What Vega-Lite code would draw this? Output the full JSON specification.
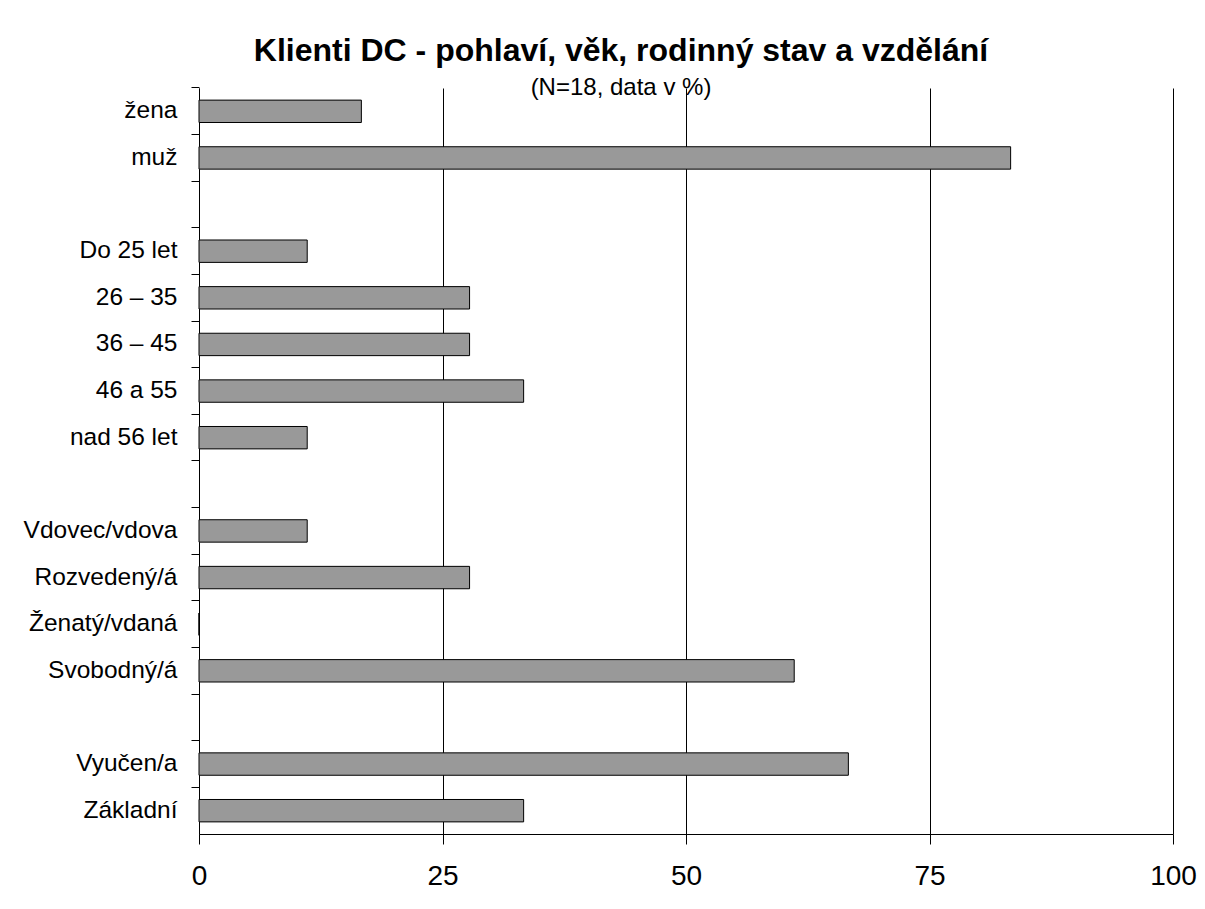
{
  "$schema": "https://vega.github.io/schema/vega-lite/v6.json",
  "width": 974,
  "height": 746,
  "autosize": {"type": "none"},
  "padding": {"left": 199, "top": 88, "right": 32, "bottom": 75},
  "background": "white",
  "title": {
    "text": "Klienti DC - pohlaví, věk, rodinný stav a vzdělání",
    "subtitle": "(N=18, data v %)",
    "anchor": "middle",
    "dx": -65,
    "font": "Liberation Sans",
    "fontSize": 32,
    "fontWeight": "bold",
    "color": "black",
    "subtitleFont": "Liberation Sans",
    "subtitleFontSize": 24,
    "subtitleColor": "black",
    "subtitlePadding": 8,
    "offset": -14
  },
  "data": {
    "values": [
      {"kategorie": "žena", "procento": 16.67},
      {"kategorie": "muž", "procento": 83.33},
      {"kategorie": "Do 25 let", "procento": 11.11},
      {"kategorie": "26 – 35", "procento": 27.78},
      {"kategorie": "36 – 45", "procento": 27.78},
      {"kategorie": "46 a 55", "procento": 33.33},
      {"kategorie": "nad 56 let", "procento": 11.11},
      {"kategorie": "Vdovec/vdova", "procento": 11.11},
      {"kategorie": "Rozvedený/á", "procento": 27.78},
      {"kategorie": "Ženatý/vdaná", "procento": 0},
      {"kategorie": "Svobodný/á", "procento": 61.11},
      {"kategorie": "Vyučen/a", "procento": 66.67},
      {"kategorie": "Základní", "procento": 33.33}
    ]
  },
  "layer": [
    {
      "mark": {"type": "bar", "opacity": 0},
      "encoding": {
        "y": {
          "field": "kategorie",
          "type": "nominal",
          "title": null,
          "scale": {
            "domain": ["žena", "muž", "_gap1", "Do 25 let", "26 – 35", "36 – 45", "46 a 55", "nad 56 let", "_gap2", "Vdovec/vdova", "Rozvedený/á", "Ženatý/vdaná", "Svobodný/á", "_gap3", "Vyučen/a", "Základní"],
            "paddingInner": 0.52,
            "paddingOuter": 0.26
          },
          "axis": {
            "orient": "left",
            "bandPosition": -0.5417,
            "labels": false,
            "domain": false,
            "tickSize": 8,
            "tickColor": "black",
            "grid": false
          }
        },
        "x": {
          "field": "procento",
          "type": "quantitative",
          "title": null,
          "scale": {"domain": [0, 100], "nice": false},
          "axis": {
            "values": [0, 25, 50, 75, 100],
            "grid": true,
            "gridColor": "black",
            "gridOpacity": 1,
            "gridWidth": 1,
            "domainColor": "black",
            "tickColor": "black",
            "tickSize": 10,
            "labelFont": "Liberation Sans",
            "labelFontSize": 28,
            "labelColor": "black",
            "labelPadding": 18,
            "labelFlush": false
          }
        }
      }
    },
    {
      "mark": {"type": "bar", "fill": "#999999", "stroke": "black", "strokeWidth": 1},
      "encoding": {
        "y": {
          "field": "kategorie",
          "type": "nominal",
          "title": null,
          "axis": {
            "orient": "left",
            "labelExpr": "indexof(datum.value, '_gap') == 0 ? '' : datum.value",
            "ticks": false,
            "domainColor": "black",
            "labelFont": "Liberation Sans",
            "labelFontSize": 24.5,
            "labelColor": "black",
            "labelPadding": 22,
            "grid": false,
            "labelLimit": 300
          }
        },
        "x": {
          "field": "procento",
          "type": "quantitative"
        }
      }
    }
  ],
  "resolve": {"axis": {"y": "independent"}},
  "config": {
    "view": {"stroke": null}
  }
}
